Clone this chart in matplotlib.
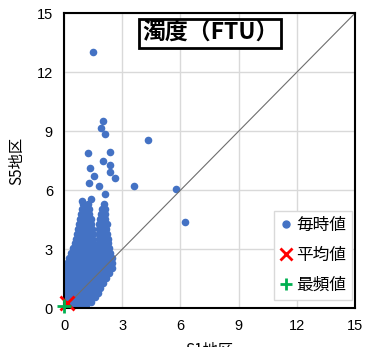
import matplotlib
matplotlib.use("Agg")
import matplotlib.pyplot as plt
from matplotlib.lines import Line2D

# ---- data ----
hourly_x = [
    0.00, 0.20, 0.40, 0.60, 0.80, 1.00, 1.15,
    0.00, 0.20, 0.40, 0.60, 0.80, 1.00, 1.20, 1.40,
    0.00, 0.20, 0.40, 0.60, 0.80, 1.00, 1.20, 1.40, 1.60,
    0.00, 0.20, 0.40, 0.60, 0.80, 1.00, 1.20, 1.40, 1.60, 1.75,
    0.00, 0.20, 0.40, 0.60, 0.80, 1.00, 1.20, 1.40, 1.60, 1.85,
    0.00, 0.20, 0.40, 0.60, 0.80, 1.00, 1.20, 1.40, 1.60, 1.80, 2.00,
    0.00, 0.20, 0.40, 0.60, 0.80, 1.00, 1.20, 1.40, 1.60, 1.80, 2.00, 2.15,
    0.05, 0.25, 0.45, 0.65, 0.85, 1.05, 1.25, 1.45, 1.65, 1.85, 2.05, 2.30,
    0.10, 0.30, 0.50, 0.70, 0.90, 1.10, 1.30, 1.50, 1.70, 1.90, 2.10, 2.25, 2.45,
    0.15, 0.35, 0.55, 0.75, 0.95, 1.15, 1.35, 1.55, 1.75, 1.95, 2.15, 2.35, 2.50,
    0.25, 0.45, 0.65, 0.85, 1.05, 1.25, 1.45, 1.65, 1.85, 2.05, 2.25, 2.45,
    0.35, 0.55, 0.75, 0.95, 1.15, 1.35, 1.55, 1.75, 1.95, 2.15, 2.38,
    0.45, 0.65, 0.85, 1.05, 1.25, 1.45, 1.65, 1.85, 2.05, 2.30,
    0.55, 0.75, 0.95, 1.15, 1.35, 1.50, 1.78, 1.98, 2.28,
    0.62, 0.82, 1.02, 1.22, 1.45, 1.82, 2.02, 2.28,
    0.68, 0.88, 1.08, 1.28, 1.48, 1.80, 2.00, 2.22,
    0.72, 0.92, 1.12, 1.30, 1.45, 1.78, 1.98, 2.18,
    0.78, 0.98, 1.18, 1.40, 1.82, 2.02, 2.20,
    0.82, 1.02, 1.22, 1.38, 1.88, 2.10,
    0.88, 1.08, 1.30, 1.92, 2.10,
    0.92, 1.12, 1.28, 1.98, 2.12,
    1.00, 1.22, 2.05,
    1.48, 2.00, 1.92, 2.12, 4.32, 1.26, 2.38, 2.00, 1.35, 2.38, 1.57,
    2.35, 2.64, 1.30, 1.78, 3.63, 5.78, 6.22, 2.12, 0.95, 1.38,
]
hourly_y = [
    0.05, 0.05, 0.05, 0.05, 0.05, 0.05, 0.05,
    0.30, 0.30, 0.30, 0.30, 0.30, 0.30, 0.30, 0.30,
    0.55, 0.55, 0.55, 0.55, 0.55, 0.55, 0.55, 0.55, 0.55,
    0.80, 0.80, 0.80, 0.80, 0.80, 0.80, 0.80, 0.80, 0.80, 0.80,
    1.05, 1.05, 1.05, 1.05, 1.05, 1.05, 1.05, 1.05, 1.05, 1.05,
    1.30, 1.30, 1.30, 1.30, 1.30, 1.30, 1.30, 1.30, 1.30, 1.30, 1.30,
    1.55, 1.55, 1.55, 1.55, 1.55, 1.55, 1.55, 1.55, 1.55, 1.55, 1.55, 1.55,
    1.80, 1.80, 1.80, 1.80, 1.80, 1.80, 1.80, 1.80, 1.80, 1.80, 1.80, 1.80,
    2.05, 2.05, 2.05, 2.05, 2.05, 2.05, 2.05, 2.05, 2.05, 2.05, 2.05, 2.05, 2.05,
    2.30, 2.30, 2.30, 2.30, 2.30, 2.30, 2.30, 2.30, 2.30, 2.30, 2.30, 2.30, 2.30,
    2.55, 2.55, 2.55, 2.55, 2.55, 2.55, 2.55, 2.55, 2.55, 2.55, 2.55, 2.55,
    2.80, 2.80, 2.80, 2.80, 2.80, 2.80, 2.80, 2.80, 2.80, 2.80, 2.80,
    3.05, 3.05, 3.05, 3.05, 3.05, 3.05, 3.05, 3.05, 3.05, 3.05,
    3.30, 3.30, 3.30, 3.30, 3.30, 3.30, 3.30, 3.30, 3.30,
    3.55, 3.55, 3.55, 3.55, 3.55, 3.55, 3.55, 3.55,
    3.80, 3.80, 3.80, 3.80, 3.80, 3.80, 3.80, 3.80,
    4.05, 4.05, 4.05, 4.05, 4.05, 4.05, 4.05, 4.05,
    4.30, 4.30, 4.30, 4.30, 4.30, 4.30, 4.30,
    4.55, 4.55, 4.55, 4.55, 4.55, 4.55,
    4.80, 4.80, 4.80, 4.80, 4.80,
    5.05, 5.05, 5.05, 5.05, 5.05,
    5.30, 5.30, 5.30,
    13.06, 9.52, 9.19, 8.88, 8.58, 7.90, 7.95, 7.48, 7.14, 7.27, 6.72,
    6.93, 6.65, 6.35, 6.21, 6.22, 6.09, 4.37, 5.80, 5.46, 5.55,
]
mean_xy = (0.14, 0.25)
mode_xy = (0.00, 0.14)
ticks = [0, 3, 6, 9, 12, 15]
title_text = "濁度（FTU）"
series_labels = ["毎時値", "平均値", "最頻値"]
x_label = "S1地区"
y_label = "S5地区"

# ---- figure ----
cjk = ["Noto Sans CJK JP", "DejaVu Sans"]
num = ["Liberation Sans", "DejaVu Sans"]
blue = "#4472C4"

fig = plt.figure(figsize=(3.70, 3.47), dpi=100)
ax = fig.add_axes([0.173, 0.1115, 0.786, 0.850])

ax.scatter(hourly_x, hourly_y, s=30, color=blue, linewidths=0, zorder=2)
ax.plot([0, 15], [0, 15], color="#6e6e6e", lw=0.8, zorder=3)
ax.plot([mean_xy[0]], [mean_xy[1]], marker="x", color="#FF0000",
        markersize=10, mew=2.0, linestyle="none", zorder=7, clip_on=False)
ax.plot([mode_xy[0]], [mode_xy[1]], marker="+", color="#00B050",
        markersize=10, mew=2.0, linestyle="none", zorder=8, clip_on=False)

ax.set_xlim(0, 15)
ax.set_ylim(0, 15)
ax.set_xticks(ticks)
ax.set_yticks(ticks)
ax.set_xticklabels([str(t) for t in ticks], family=num, fontsize=10.5)
ax.set_yticklabels([str(t) for t in ticks], family=num, fontsize=10.5)
ax.tick_params(length=0, pad=8)
ax.grid(True, color="#d9d9d9", lw=1.0, zorder=0)
ax.set_axisbelow(True)
for sp in ax.spines.values():
    sp.set_color("black")
    sp.set_linewidth(1.5)
    sp.set_zorder(6)

ax.set_xlabel(x_label, family=cjk, fontsize=11, labelpad=6)
ax.set_ylabel(y_label, family=cjk, fontsize=11, labelpad=8)

ax.text(7.55, 13.97, title_text, family=cjk, fontsize=16.5, fontweight="bold",
        ha="center", va="center", zorder=9,
        bbox=dict(boxstyle="square,pad=0.12", facecolor="white",
                  edgecolor="black", linewidth=2.0))

handles = [
    Line2D([], [], marker="o", color=blue, markersize=5, linestyle="none"),
    Line2D([], [], marker="x", color="#FF0000", markersize=8, mew=2.0, linestyle="none"),
    Line2D([], [], marker="+", color="#00B050", markersize=9, mew=2.0, linestyle="none"),
]
leg = ax.legend(handles, series_labels, loc="lower right",
                bbox_to_anchor=(0.99, 0.028), borderaxespad=0,
                prop={"family": cjk, "size": 12}, frameon=True, fancybox=False,
                edgecolor="#d9d9d9", framealpha=1.0, handlelength=0.8,
                handletextpad=0.2, borderpad=0.35, labelspacing=0.8)
leg.get_frame().set_linewidth(1.0)
leg.set_zorder(10)

fig.savefig("out.png", dpi=100)
